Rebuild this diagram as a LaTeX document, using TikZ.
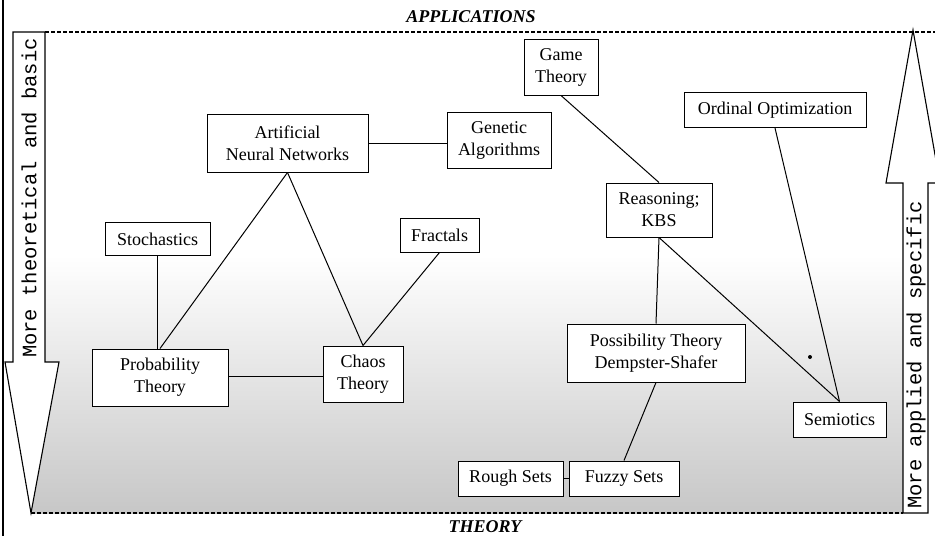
\documentclass[tikz,border=0pt]{standalone}
\usepackage{fontspec}
\setmainfont{Liberation Serif}
\newfontfamily\monofont{Liberation Mono}
\begin{document}
\begin{tikzpicture}[x=1pt,y=-1pt,
  box/.style={draw, fill=white, line width=1pt, align=center, inner sep=0pt,
    font=\fontsize{18}{22}\selectfont},
  link/.style={line width=1pt},
  dashline/.style={line width=1.1pt, dash pattern=on 4pt off 2pt},
  bigarrow/.style={draw, fill=white, line width=1.1pt, line join=miter},
  sidetext/.style={font=\monofont\fontsize{20.5}{22}\selectfont, rotate=90},
  headtext/.style={font=\fontsize{18}{20}\selectfont\bfseries\itshape}]
\useasboundingbox (0,0) rectangle (935,536);
\clip (0,0) rectangle (935,536);
% shading
\shade[top color=white, bottom color=black!22] (31,255) rectangle (903,513);
% frame lines
\draw[line width=1.4pt] (3,0) -- (3,536);
\draw[dashline] (45,32) -- (935,32);
\draw[dashline] (31,513) -- (903,513);
% left arrow
\draw[bigarrow] (13,32) -- (45,32) -- (45,362) -- (59,362) -- (31,513) -- (5,362) -- (13,362) -- cycle;
\node[sidetext] (lefttext) at (29,198) {More theoretical and basic};
% right arrow
\draw[bigarrow] (903,513) -- (903,183) -- (886,183) -- (913,30) -- (940,183) -- (928,183) -- (928,513) -- cycle;
\node[sidetext] (righttext) at (916,355) {More applied and specific};
% headings
\node[headtext] (apps) at (471,17) {APPLICATIONS};
\node[headtext] (theory) at (485,527) {THEORY};
% nodes
\node[box, minimum width=161pt, minimum height=58pt] (ann) at (287.5,143) {Artificial\\Neural Networks};
\node[box, minimum width=104pt, minimum height=56pt] (gen) at (499,140) {Genetic\\Algorithms};
\node[box, minimum width=74pt, minimum height=56pt] (game) at (561,67) {Game\\Theory};
\node[box, minimum width=182pt, minimum height=35pt] (ord) at (775,110) {Ordinal Optimization};
\node[box, minimum width=106pt, minimum height=54pt] (reas) at (659,210) {Reasoning;\\KBS};
\node[box, minimum width=105pt, minimum height=33pt] (stoch) at (157.5,239) {Stochastics};
\node[box, minimum width=79pt, minimum height=34pt] (frac) at (439.5,235) {Fractals};
\node[box, minimum width=136pt, minimum height=57pt] (prob) at (160,377.5) {Probability\\Theory};
\node[box, minimum width=80pt, minimum height=56pt] (chaos) at (363,374) {Chaos\\Theory};
\node[box, minimum width=178pt, minimum height=58pt] (poss) at (656,353) {Possibility Theory\\Dempster-Shafer};
\node[box, minimum width=93pt, minimum height=35pt] (semi) at (839.5,419.5) {Semiotics};
\node[box, minimum width=105pt, minimum height=35pt] (rough) at (510.5,478.5) {Rough Sets};
\node[box, minimum width=110pt, minimum height=35pt] (fuzzy) at (624,478.5) {Fuzzy Sets};
% connectors
\draw[link] (ann.east) -- (gen.west |- ann.east);
\draw[link] (ann.south) -- (prob.north);
\draw[link] (ann.south) -- (chaos.north);
\draw[link] (stoch.south) -- (stoch.south |- prob.north);
\draw[link] (frac.south) -- (chaos.north);
\draw[link] (prob.east |- 0,376) -- (chaos.west |- 0,376);
\draw[link] (game.south) -- (reas.north);
\draw[link] (reas.south) -- (poss.north);
\draw[link] (reas.south) -- (semi.north);
\draw[link] (ord.south) -- (semi.north);
\draw[link] (poss.south) -- (fuzzy.north);
\draw[link] (rough) -- (fuzzy);
% speck
\fill (810,357) circle (2pt);
\end{tikzpicture}
\end{document}
